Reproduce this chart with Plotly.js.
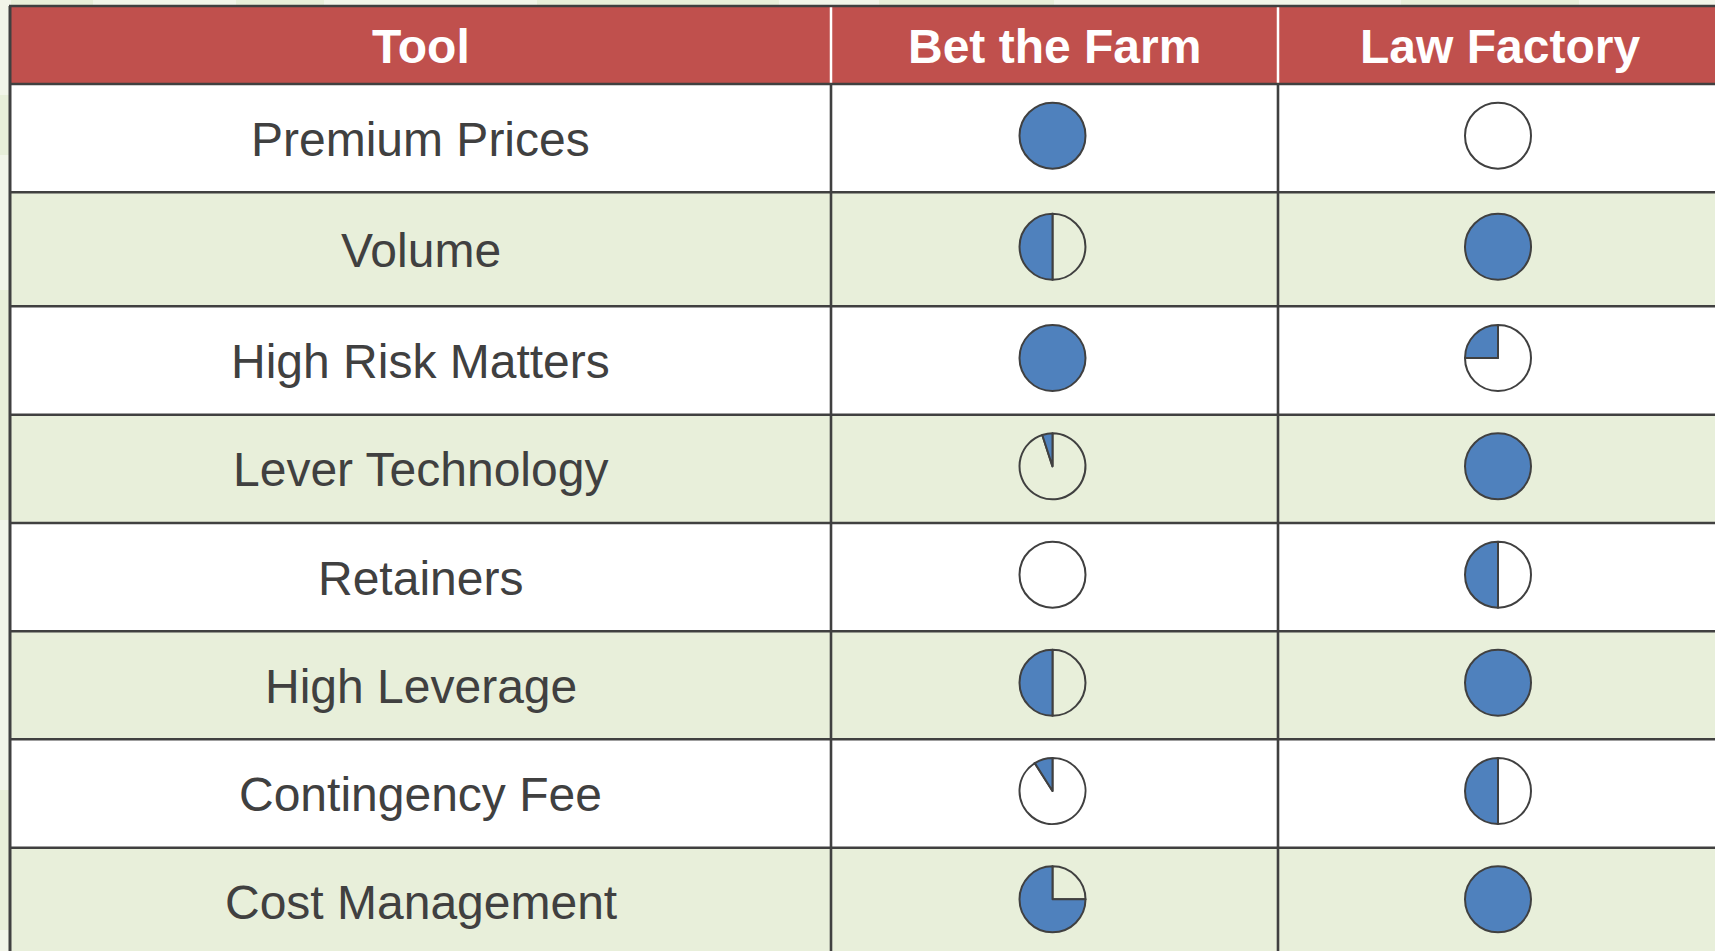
<!DOCTYPE html>
<html>
<head>
<meta charset="utf-8">
<script src="https://cdn.plot.ly/plotly-3.0.1.min.js"></script>
<style>html,body{margin:0;padding:0;background:#f2f5e9;}#chart{width:1715px;height:951px;}</style>
</head>
<body>
<div id="chart"></div>
<script>
// ---- data ----
const headers = ["Tool", "Bet the Farm", "Law Factory"];
const tools = ["Premium Prices", "Volume", "High Risk Matters", "Lever Technology",
               "Retainers", "High Leverage", "Contingency Fee", "Cost Management"];
const betTheFarm = [1, 0.5, 1, 0.05, 0, 0.5, 0.09, 0.75];
const lawFactory = [0, 1, 0.25, 1, 0.5, 1, 0.5, 1];

// ---- layout / style ----
const W = 1715, H = 951;
const colEdges = [10, 831, 1278, 1722];
const headerTop = 6, headerBottom = 84;
const rowEdges = [84, 192.3, 306.3, 414.7, 523, 631.3, 739.3, 847.7, 956];
const pieDiam = 66;
const lineColor = "#404040", lineW = 2.6;
const headerFill = "#c0504d", greenFill = "#e8efda", whiteFill = "#ffffff";
const blue = "#4f81bd";
const font = "Liberation Sans, Arial, Helvetica, sans-serif";
const fontSize = 48;

const shapes = [];
const annotations = [];

// background pattern strips (slide background)
const bgGreen = "#e8efd9";
[[0, 95, 155], [0, 290, 520], [0, 790, 930]].forEach(function (s) {
  shapes.push({type: "rect", xref: "x", yref: "y", layer: "below", x0: 0, x1: 9, y0: s[1], y1: s[2],
    fillcolor: bgGreen, line: {width: 0}});
});
[[11, 93], [236, 324], [537, 779], [879, 1054], [1401, 1579]].forEach(function (s) {
  shapes.push({type: "rect", xref: "x", yref: "y", layer: "below", x0: s[0], x1: s[1], y0: 0, y1: 5,
    fillcolor: bgGreen, line: {width: 0}});
});

// header fill
shapes.push({type: "rect", xref: "x", yref: "y", layer: "below", x0: colEdges[0], x1: colEdges[3],
  y0: headerTop, y1: headerBottom, fillcolor: headerFill, line: {width: 0}});

// body row fills
tools.forEach(function (t, i) {
  shapes.push({type: "rect", xref: "x", yref: "y", layer: "below", x0: colEdges[0], x1: colEdges[3],
    y0: rowEdges[i], y1: rowEdges[i + 1], fillcolor: i % 2 === 0 ? whiteFill : greenFill, line: {width: 0}});
});

// horizontal lines
[headerTop].concat(rowEdges.slice(0, tools.length)).forEach(function (y) {
  shapes.push({type: "line", xref: "x", yref: "y", layer: "below", x0: colEdges[0] - 1, x1: colEdges[3],
    y0: y, y1: y, line: {color: lineColor, width: lineW}});
});
// vertical lines: left border
shapes.push({type: "line", xref: "x", yref: "y", layer: "below", x0: colEdges[0], x1: colEdges[0],
  y0: headerTop, y1: H + 5, line: {color: lineColor, width: 3}});
// inner dividers: white in header, dark in body
[colEdges[1], colEdges[2]].forEach(function (x) {
  shapes.push({type: "line", xref: "x", yref: "y", layer: "below", x0: x, x1: x,
    y0: headerTop + lineW / 2, y1: headerBottom - lineW / 2, line: {color: "#ffffff", width: 2.5}});
  shapes.push({type: "line", xref: "x", yref: "y", layer: "below", x0: x, x1: x,
    y0: headerBottom, y1: H + 5, line: {color: lineColor, width: lineW}});
});

function colCenter(c) { return (colEdges[c] + colEdges[c + 1]) / 2; }
function rowCenter(r) { return (rowEdges[r] + rowEdges[r + 1]) / 2; }

// header text
headers.forEach(function (h, c) {
  annotations.push({xref: "x", yref: "y", x: colCenter(c), y: (headerTop + headerBottom) / 2 + 1,
    text: "<b>" + h + "</b>", showarrow: false, xanchor: "center", yanchor: "middle",
    font: {family: font, size: fontSize, color: "#ffffff"}});
});
// row labels
tools.forEach(function (t, i) {
  annotations.push({xref: "x", yref: "y", x: colCenter(0), y: rowCenter(i) + 1,
    text: t, showarrow: false, xanchor: "center", yanchor: "middle",
    font: {family: font, size: fontSize, color: "#404040"}});
});

// pies (Harvey balls): filled part ends at 12 o'clock, coming from the left
const traces = [{type: "scatter", x: [], y: [], hoverinfo: "skip", showlegend: false}];
const clear = "rgba(0,0,0,0)";
function addPie(frac, c, r) {
  const cx = colCenter(c) - 2, cy = rowCenter(r) - 2.5;
  let values, colors;
  if (frac >= 1) { values = [1]; colors = [blue]; }
  else if (frac <= 0) { values = [1]; colors = [clear]; }
  else { values = [1 - frac, frac]; colors = [clear, blue]; }
  traces.push({
    type: "pie", values: values, labels: values.map(function (v, k) { return "s" + k; }),
    sort: false, direction: "clockwise", rotation: 0,
    marker: {colors: colors, line: {color: lineColor, width: 2}},
    textinfo: "none", hoverinfo: "none", showlegend: false,
    domain: {x: [(cx - pieDiam / 2) / W, (cx + pieDiam / 2) / W],
             y: [1 - (cy + pieDiam / 2) / H, 1 - (cy - pieDiam / 2) / H]}
  });
}
betTheFarm.forEach(function (f, i) { addPie(f, 1, i); });
lawFactory.forEach(function (f, i) { addPie(f, 2, i); });

const layout = {
  width: W, height: H,
  margin: {l: 0, r: 0, t: 0, b: 0, pad: 0},
  paper_bgcolor: "#f2f5e9", plot_bgcolor: "rgba(0,0,0,0)",
  xaxis: {range: [0, W], visible: false, fixedrange: true},
  yaxis: {range: [H, 0], visible: false, fixedrange: true},
  shapes: shapes, annotations: annotations, showlegend: false
};
Plotly.newPlot("chart", traces, layout, {staticPlot: true, displayModeBar: false});
</script>
</body>
</html>
